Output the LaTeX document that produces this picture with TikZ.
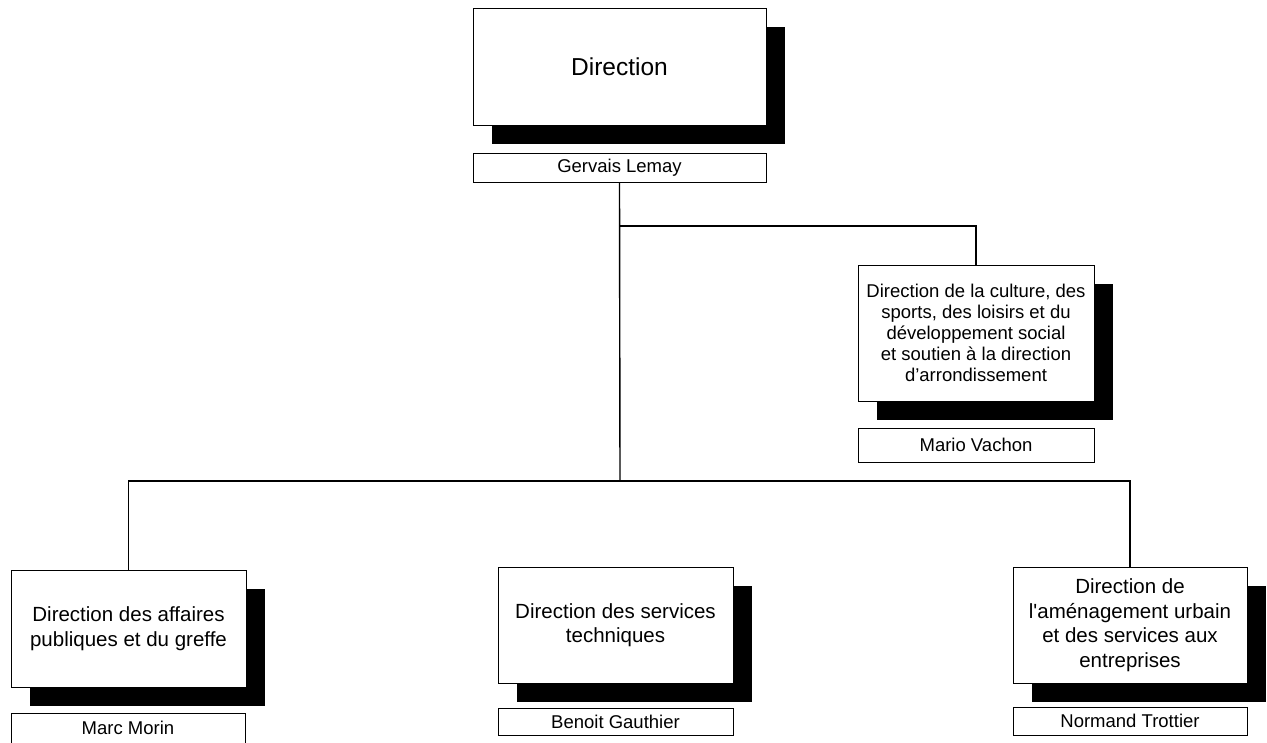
\documentclass[tikz,border=0pt]{standalone}
\usepackage{fontspec}
\setmainfont{Liberation Sans}
\usetikzlibrary{shadows}
\begin{document}
\begin{tikzpicture}[x=1pt,y=-1pt,
  box/.style={draw=black, line width=1pt, fill=white, inner sep=2pt, align=center,
    drop shadow={shadow xshift=18.5pt, shadow yshift=-18.5pt, fill=black, opacity=1}},
  namebox/.style={draw=black, line width=1pt, fill=white, inner sep=0pt, align=center,
    font=\fontsize{18.5}{21}\selectfont},
  bigtxt/.style={font=\fontsize{20.5}{24.5}\selectfont},
  link/.style={draw=black, line width=1.4pt}]
\useasboundingbox (0,0) rectangle (1267,742);
\fill[white] (0,0) rectangle (1267,742);

\node[box, minimum width=293pt, minimum height=117pt, font=\fontsize{24.5}{28}\selectfont] (dir) at (619.5,66.5) {Direction};
\node[namebox, minimum width=293pt, minimum height=29pt] (gervais) at (619.5,167.5) {Gervais Lemay};

\node[box, minimum width=236pt, minimum height=136pt, font=\fontsize{18.5}{21}\selectfont] (culture) at (976,333)
  {Direction de la culture, des\\sports, des loisirs et du\\développement social\\et soutien à la direction\\d’arrondissement};
\node[namebox, minimum width=236pt, minimum height=34pt] (mario) at (976,445) {Mario Vachon};

\node[box, bigtxt, minimum width=235pt, minimum height=117pt] (affaires) at (128.5,628.5)
  {Direction des affaires\\publiques et du greffe};
\node[namebox, minimum width=234pt, minimum height=30pt] (marc) at (128,728) {Marc Morin};

\node[box, bigtxt, minimum width=235pt, minimum height=116pt] (services) at (615.5,625)
  {Direction des services\\techniques};
\node[namebox, minimum width=235pt, minimum height=27pt] (benoit) at (615.5,721.5) {Benoit Gauthier};

\node[box, bigtxt, minimum width=234pt, minimum height=116pt] (amenag) at (1130,625)
  {Direction de\\l\textquotesingle aménagement urbain\\et des services aux\\entreprises};
\node[namebox, minimum width=234pt, minimum height=28pt] (normand) at (1130,721) {Normand Trottier};

\coordinate (j1) at (620,226);
\coordinate (bus) at (620,481);
\draw[link] (gervais.south) -- (bus);
\draw[link] (j1) -| (culture.north);
\draw[link] (affaires.north) |- (bus) -| (amenag.north);
\end{tikzpicture}
\end{document}
